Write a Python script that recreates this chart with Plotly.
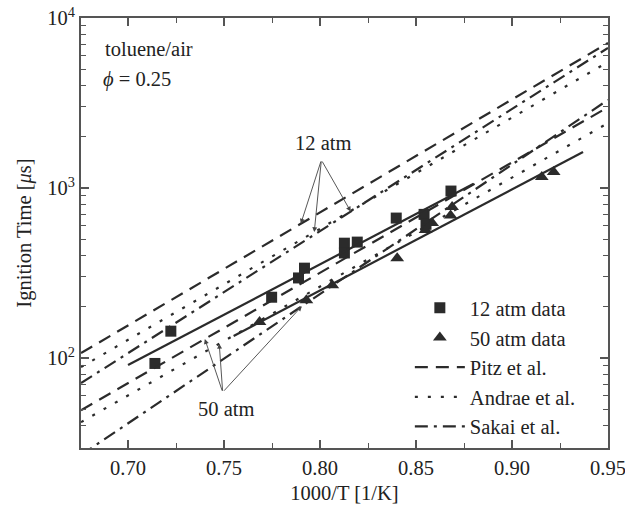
import numpy as np
import plotly.graph_objects as go

# --- data -------------------------------------------------------------
# measured ignition times, toluene/air, phi = 0.25
x12 = [0.714, 0.7223, 0.7748, 0.7888, 0.7919, 0.8127, 0.8127, 0.8194, 0.8397, 0.8542, 0.8552, 0.8682]
t12 = [93, 144, 228, 296, 338, 474, 415, 481, 666, 700, 612, 960]

x50 = [0.7685, 0.7929, 0.8064, 0.8402, 0.855, 0.8584, 0.868, 0.8688, 0.9155, 0.9217]
t50 = [163, 219, 268, 387, 566, 622, 690, 773, 1161, 1241]

# Arrhenius fits through the measurements (end points)
fit12_x = [0.700, 0.880]
fit12_t = [91, 1060]
fit50_x = [0.755, 0.937]
fit50_t = [135, 1630]

# model predictions (end points over the plotted 1000/T range)
model_x = [0.6755, 0.95]
pitz_12 = [107, 7130]
andrae_12 = [88.5, 5510]
sakai_12 = [71.3, 6670]
pitz_50 = [49.4, 2990]
andrae_50 = [42.0, 2410]
sakai_50 = [26.9, 3300]

x_ticks = [0.70, 0.75, 0.80, 0.85, 0.90, 0.95]
x_tick_text = ["0.70", "0.75", "0.80", "0.85", "0.90", "0.95"]
y_ticks = [100, 1000, 10000]
y_tick_text = ["10<sup>2</sup>", "10<sup>3</sup>", "10<sup>4</sup>"]

# --- styling ------------------------------------------------------------
FONT = "Liberation Serif, Times New Roman, serif"
FS = 20.5
INK = "#2b2b2b"
TXT = "#222"
DASH = {"Pitz et al.": "13px,8px", "Andrae et al.": "3px,10px", "Sakai et al.": "13px,6px,3px,6px"}


def on_line(xs, ts, x):
    """Point on a straight line in (x, log10 t) space."""
    lt = np.interp(x, xs, np.log10(ts))
    return float(10 ** lt)


fig = go.Figure()

fig.add_trace(go.Scatter(x=x12, y=t12, mode="markers", name="12 atm data",
                         marker=dict(symbol="square", size=11, color=INK)))
fig.add_trace(go.Scatter(x=x50, y=t50, mode="markers", name="50 atm data",
                         marker=dict(symbol="triangle-up", size=12, color=INK)))

for name, s12, s50 in [("Pitz et al.", pitz_12, pitz_50),
                       ("Andrae et al.", andrae_12, andrae_50),
                       ("Sakai et al.", sakai_12, sakai_50)]:
    for i, s in enumerate((s12, s50)):
        fig.add_trace(go.Scatter(x=model_x, y=s, mode="lines", name=name,
                                 legendgroup=name, showlegend=(i == 0),
                                 line=dict(color=INK, width=2.2, dash=DASH[name])))

for fx, ft in [(fit12_x, fit12_t), (fit50_x, fit50_t)]:
    fig.add_trace(go.Scatter(x=fx, y=ft, mode="lines", showlegend=False,
                             line=dict(color=INK, width=2.2)))

# pressure labels with arrows to the model curves
arrow = dict(showarrow=True, arrowhead=2, arrowsize=1.1, arrowwidth=0.9,
             arrowcolor="#444", axref="x", ayref="y", text="")
tail12 = (0.8007, 1462)
for xs, ts, xa in [(model_x, pitz_12, 0.790), (model_x, andrae_12, 0.797), (model_x, sakai_12, 0.816)]:
    fig.add_annotation(x=xa, y=np.log10(on_line(xs, ts, xa)), ax=tail12[0], ay=np.log10(tail12[1]), **arrow)
tail50 = (0.7493, 63)
for xs, ts, xa in [(model_x, pitz_50, 0.740), (model_x, andrae_50, 0.7475), (model_x, sakai_50, 0.7905)]:
    fig.add_annotation(x=xa, y=np.log10(on_line(xs, ts, xa)), ax=tail50[0], ay=np.log10(tail50[1]), **arrow)

fig.add_annotation(x=0.8015, y=np.log10(1840), text="12 atm", showarrow=False,
                   font=dict(family=FONT, size=FS, color=TXT))
fig.add_annotation(x=0.751, y=np.log10(50), text="50 atm", showarrow=False,
                   font=dict(family=FONT, size=FS, color=TXT))

fig.add_annotation(xref="paper", yref="paper", x=0.042, y=0.928, xanchor="left", yanchor="middle",
                   text="toluene/air", showarrow=False, font=dict(family=FONT, size=FS, color=TXT))
fig.add_annotation(xref="paper", yref="paper", x=0.038, y=0.856, xanchor="left", yanchor="middle",
                   text="<i>ϕ</i> = 0.25", showarrow=False, font=dict(family=FONT, size=FS, color=TXT))

minor_y = [m * 10 ** e for e in (1, 2, 3) for m in range(2, 10)]
minor_x = [0.725, 0.775, 0.825, 0.875, 0.925]

fig.update_xaxes(range=[0.6755, 0.95], tickvals=x_ticks, ticktext=x_tick_text,
                 automargin=False, ticklabeloverflow="allow",
                 ticks="inside", ticklen=8, tickwidth=1.5, tickcolor="#555",
                 minor=dict(tickvals=minor_x, ticks="inside", ticklen=5, tickwidth=1.2, tickcolor="#555"),
                 showline=True, linecolor="#555", linewidth=2, mirror="ticks",
                 showgrid=False, zeroline=False,
                 title=dict(text="1000/T [1/K]", font=dict(family=FONT, size=FS, color=TXT), standoff=8),
                 tickfont=dict(family=FONT, size=FS, color=TXT))
fig.update_yaxes(type="log", range=[np.log10(29.6), 4], tickvals=y_ticks, ticktext=y_tick_text,
                 automargin=False, ticklabeloverflow="allow",
                 ticks="inside", ticklen=8, tickwidth=1.5, tickcolor="#555",
                 minor=dict(tickvals=minor_y, ticks="inside", ticklen=5, tickwidth=1.2, tickcolor="#555"),
                 showline=True, linecolor="#555", linewidth=2, mirror="ticks",
                 showgrid=False, zeroline=False,
                 title=dict(text="Ignition Time [<i>μ</i>s]", font=dict(family=FONT, size=FS, color=TXT), standoff=10),
                 tickfont=dict(family=FONT, size=FS, color=TXT))

fig.update_layout(
    width=625, height=506,
    margin=dict(l=81, r=17, t=18, b=58),
    paper_bgcolor="white", plot_bgcolor="white",
    font=dict(family=FONT, size=FS, color=TXT),
    legend=dict(x=0.624, y=0.372, xanchor="left", yanchor="top",
                bgcolor="rgba(0,0,0,0)", font=dict(family=FONT, size=FS, color=TXT),
                itemwidth=50, tracegroupgap=0),
)

fig.write_html("out.html")
